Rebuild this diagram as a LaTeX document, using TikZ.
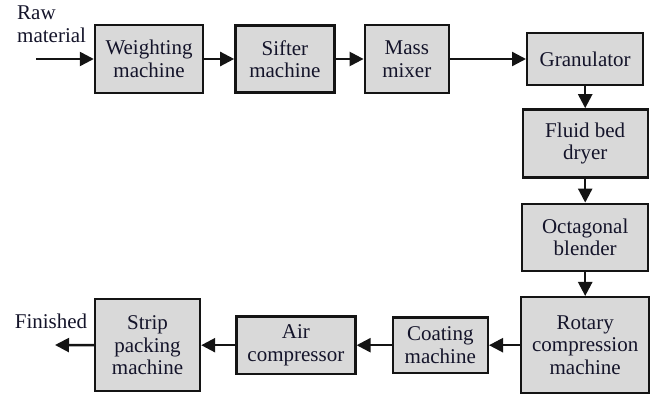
\documentclass[tikz,border=0pt]{standalone}
\usepackage{fontspec}
\setmainfont{Liberation Serif}
\usetikzlibrary{
  arrows.meta,
  positioning
}
\definecolor{boxfill}{HTML}{D9D9D9}
\definecolor{boxline}{HTML}{141414}
\definecolor{inktext}{HTML}{14142A}

\begin{document}
\begin{tikzpicture}[
  x=1pt, y=-1pt,
  machine/.style={
    rectangle, draw=boxline, fill=boxfill, line width=2.4pt,
    align=center, inner sep=2pt, text=inktext,
    font=\fontsize{21}{22.5}\selectfont
  },
  flow/.style={
    -{Triangle[length=14pt,width=14pt]}, line width=2.4pt, color=boxline
  },
  tag/.style={
    inner sep=0pt, align=left, text=inktext,
    font=\fontsize{21}{22.5}\selectfont
  }
]
\useasboundingbox (0,0) rectangle (656,395);

% Top row
\node[machine, minimum width=108pt, minimum height=68pt] (weigh) at (149,59) {Weighting\\machine};
\node[machine, minimum width=99pt, minimum height=67pt, right=30pt of weigh] (sift) {Sifter\\machine};
\node[machine, minimum width=84pt, minimum height=68pt, right=28pt of sift] (mix) {Mass\\mixer};
\node[machine, minimum width=116pt, minimum height=52pt, right=76pt of mix] (gran) {Granulator};

% Right column
\node[machine, minimum width=125pt, minimum height=68pt, below=22pt of gran] (dryer) {Fluid bed\\dryer};
\node[machine, minimum width=126pt, minimum height=67pt, below=24pt of dryer] (blend) {Octagonal\\blender};
\node[machine, minimum width=128pt, minimum height=96pt, below=24pt of blend] (rotary) {Rotary\\compression\\machine};

% Bottom row
\node[machine, minimum width=95pt, minimum height=55pt, left=31pt of rotary] (coat) {Coating\\machine};
\node[machine, minimum width=119pt, minimum height=57pt, left=35pt of coat] (comp) {Air\\compressor};
\node[machine, minimum width=105pt, minimum height=92pt, left=34pt of comp] (strip) {Strip\\packing\\machine};

% In and out
\node[tag, anchor=west] (rawlbl) at (17,24) {Raw\\material};
\node[tag] (donelbl) at (51,321) {Finished};
\coordinate (rawin) at (36,59);
\coordinate (doneout) at (55,345);

% Connectors
\draw[flow] (rawin) -- (weigh);
\draw[flow] (weigh) -- (sift);
\draw[flow] (sift) -- (mix);
\draw[flow] (mix) -- (gran);
\draw[flow] (gran) -- (dryer);
\draw[flow] (dryer) -- (blend);
\draw[flow] (blend) -- (rotary);
\draw[flow] (rotary) -- (coat);
\draw[flow] (coat) -- (comp);
\draw[flow] (comp) -- (strip);
\draw[flow] (strip.west) -- (doneout);

\end{tikzpicture}
\end{document}
